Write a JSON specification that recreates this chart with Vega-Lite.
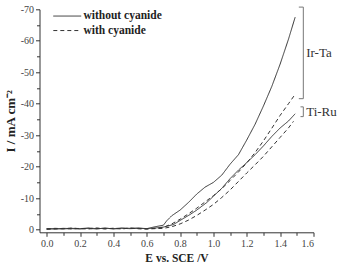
{
  "$schema": "https://vega.github.io/schema/vega-lite/v6.json",
  "width": 274,
  "height": 223,
  "autosize": {"type": "none"},
  "padding": {"left": 39.5, "top": 9.3, "right": 27.5, "bottom": 31.7},
  "background": "white",
  "config": {
    "view": {"stroke": null},
    "font": "Liberation Serif",
    "axis": {
      "grid": false,
      "domainColor": "#333",
      "tickColor": "#333",
      "labelFont": "Liberation Serif",
      "labelFontSize": 10,
      "labelColor": "#444",
      "labelOverlap": false,
      "titleFont": "Liberation Serif",
      "titleFontWeight": "bold",
      "titleFontSize": 12,
      "titleColor": "#222"
    },
    "legend": {
      "labelFont": "Liberation Serif"
    }
  },
  "resolve": {"axis": {"x": "independent", "y": "independent"}},
  "datasets": {
    "curves": [
      {"E": 0.0, "I": -0.2, "electrode": "Ir-Ta", "cyanide": "without cyanide"},
      {"E": 0.05, "I": -0.3, "electrode": "Ir-Ta", "cyanide": "without cyanide"},
      {"E": 0.1, "I": -0.2, "electrode": "Ir-Ta", "cyanide": "without cyanide"},
      {"E": 0.15, "I": -0.4, "electrode": "Ir-Ta", "cyanide": "without cyanide"},
      {"E": 0.2, "I": -0.3, "electrode": "Ir-Ta", "cyanide": "without cyanide"},
      {"E": 0.25, "I": -0.5, "electrode": "Ir-Ta", "cyanide": "without cyanide"},
      {"E": 0.3, "I": -0.3, "electrode": "Ir-Ta", "cyanide": "without cyanide"},
      {"E": 0.35, "I": -0.4, "electrode": "Ir-Ta", "cyanide": "without cyanide"},
      {"E": 0.4, "I": -0.3, "electrode": "Ir-Ta", "cyanide": "without cyanide"},
      {"E": 0.45, "I": -0.5, "electrode": "Ir-Ta", "cyanide": "without cyanide"},
      {"E": 0.5, "I": -0.4, "electrode": "Ir-Ta", "cyanide": "without cyanide"},
      {"E": 0.55, "I": -0.5, "electrode": "Ir-Ta", "cyanide": "without cyanide"},
      {"E": 0.6, "I": -0.3, "electrode": "Ir-Ta", "cyanide": "without cyanide"},
      {"E": 0.65, "I": -0.9, "electrode": "Ir-Ta", "cyanide": "without cyanide"},
      {"E": 0.7, "I": -1.4, "electrode": "Ir-Ta", "cyanide": "without cyanide"},
      {"E": 0.72, "I": -2.8, "electrode": "Ir-Ta", "cyanide": "without cyanide"},
      {"E": 0.75, "I": -4.4, "electrode": "Ir-Ta", "cyanide": "without cyanide"},
      {"E": 0.8, "I": -6.2, "electrode": "Ir-Ta", "cyanide": "without cyanide"},
      {"E": 0.85, "I": -8.6, "electrode": "Ir-Ta", "cyanide": "without cyanide"},
      {"E": 0.9, "I": -11.3, "electrode": "Ir-Ta", "cyanide": "without cyanide"},
      {"E": 0.95, "I": -13.5, "electrode": "Ir-Ta", "cyanide": "without cyanide"},
      {"E": 1.0, "I": -15.0, "electrode": "Ir-Ta", "cyanide": "without cyanide"},
      {"E": 1.05, "I": -17.3, "electrode": "Ir-Ta", "cyanide": "without cyanide"},
      {"E": 1.1, "I": -20.8, "electrode": "Ir-Ta", "cyanide": "without cyanide"},
      {"E": 1.15, "I": -23.8, "electrode": "Ir-Ta", "cyanide": "without cyanide"},
      {"E": 1.2, "I": -28.5, "electrode": "Ir-Ta", "cyanide": "without cyanide"},
      {"E": 1.25, "I": -33.5, "electrode": "Ir-Ta", "cyanide": "without cyanide"},
      {"E": 1.3, "I": -39.3, "electrode": "Ir-Ta", "cyanide": "without cyanide"},
      {"E": 1.35, "I": -45.5, "electrode": "Ir-Ta", "cyanide": "without cyanide"},
      {"E": 1.4, "I": -52.6, "electrode": "Ir-Ta", "cyanide": "without cyanide"},
      {"E": 1.45, "I": -60.5, "electrode": "Ir-Ta", "cyanide": "without cyanide"},
      {"E": 1.49, "I": -67.5, "electrode": "Ir-Ta", "cyanide": "without cyanide"},

      {"E": 0.0, "I": -0.1, "electrode": "Ir-Ta", "cyanide": "with cyanide"},
      {"E": 0.05, "I": -0.2, "electrode": "Ir-Ta", "cyanide": "with cyanide"},
      {"E": 0.1, "I": -0.3, "electrode": "Ir-Ta", "cyanide": "with cyanide"},
      {"E": 0.15, "I": -0.2, "electrode": "Ir-Ta", "cyanide": "with cyanide"},
      {"E": 0.2, "I": -0.4, "electrode": "Ir-Ta", "cyanide": "with cyanide"},
      {"E": 0.25, "I": -0.2, "electrode": "Ir-Ta", "cyanide": "with cyanide"},
      {"E": 0.3, "I": -0.4, "electrode": "Ir-Ta", "cyanide": "with cyanide"},
      {"E": 0.35, "I": -0.2, "electrode": "Ir-Ta", "cyanide": "with cyanide"},
      {"E": 0.4, "I": -0.4, "electrode": "Ir-Ta", "cyanide": "with cyanide"},
      {"E": 0.45, "I": -0.3, "electrode": "Ir-Ta", "cyanide": "with cyanide"},
      {"E": 0.5, "I": -0.4, "electrode": "Ir-Ta", "cyanide": "with cyanide"},
      {"E": 0.55, "I": -0.3, "electrode": "Ir-Ta", "cyanide": "with cyanide"},
      {"E": 0.6, "I": -0.2, "electrode": "Ir-Ta", "cyanide": "with cyanide"},
      {"E": 0.65, "I": -0.4, "electrode": "Ir-Ta", "cyanide": "with cyanide"},
      {"E": 0.7, "I": -0.7, "electrode": "Ir-Ta", "cyanide": "with cyanide"},
      {"E": 0.75, "I": -1.8, "electrode": "Ir-Ta", "cyanide": "with cyanide"},
      {"E": 0.8, "I": -3.3, "electrode": "Ir-Ta", "cyanide": "with cyanide"},
      {"E": 0.85, "I": -5.0, "electrode": "Ir-Ta", "cyanide": "with cyanide"},
      {"E": 0.9, "I": -6.8, "electrode": "Ir-Ta", "cyanide": "with cyanide"},
      {"E": 0.95, "I": -8.8, "electrode": "Ir-Ta", "cyanide": "with cyanide"},
      {"E": 1.0, "I": -10.8, "electrode": "Ir-Ta", "cyanide": "with cyanide"},
      {"E": 1.05, "I": -13.0, "electrode": "Ir-Ta", "cyanide": "with cyanide"},
      {"E": 1.1, "I": -15.6, "electrode": "Ir-Ta", "cyanide": "with cyanide"},
      {"E": 1.15, "I": -18.3, "electrode": "Ir-Ta", "cyanide": "with cyanide"},
      {"E": 1.2, "I": -21.2, "electrode": "Ir-Ta", "cyanide": "with cyanide"},
      {"E": 1.25, "I": -24.5, "electrode": "Ir-Ta", "cyanide": "with cyanide"},
      {"E": 1.3, "I": -28.2, "electrode": "Ir-Ta", "cyanide": "with cyanide"},
      {"E": 1.35, "I": -32.2, "electrode": "Ir-Ta", "cyanide": "with cyanide"},
      {"E": 1.4, "I": -36.3, "electrode": "Ir-Ta", "cyanide": "with cyanide"},
      {"E": 1.45, "I": -40.0, "electrode": "Ir-Ta", "cyanide": "with cyanide"},
      {"E": 1.49, "I": -43.0, "electrode": "Ir-Ta", "cyanide": "with cyanide"},

      {"E": 0.0, "I": -0.3, "electrode": "Ti-Ru", "cyanide": "without cyanide"},
      {"E": 0.05, "I": -0.2, "electrode": "Ti-Ru", "cyanide": "without cyanide"},
      {"E": 0.1, "I": -0.4, "electrode": "Ti-Ru", "cyanide": "without cyanide"},
      {"E": 0.15, "I": -0.3, "electrode": "Ti-Ru", "cyanide": "without cyanide"},
      {"E": 0.2, "I": -0.2, "electrode": "Ti-Ru", "cyanide": "without cyanide"},
      {"E": 0.25, "I": -0.4, "electrode": "Ti-Ru", "cyanide": "without cyanide"},
      {"E": 0.3, "I": -0.2, "electrode": "Ti-Ru", "cyanide": "without cyanide"},
      {"E": 0.35, "I": -0.5, "electrode": "Ti-Ru", "cyanide": "without cyanide"},
      {"E": 0.4, "I": -0.2, "electrode": "Ti-Ru", "cyanide": "without cyanide"},
      {"E": 0.45, "I": -0.4, "electrode": "Ti-Ru", "cyanide": "without cyanide"},
      {"E": 0.5, "I": -0.3, "electrode": "Ti-Ru", "cyanide": "without cyanide"},
      {"E": 0.55, "I": -0.4, "electrode": "Ti-Ru", "cyanide": "without cyanide"},
      {"E": 0.6, "I": -0.3, "electrode": "Ti-Ru", "cyanide": "without cyanide"},
      {"E": 0.65, "I": -0.5, "electrode": "Ti-Ru", "cyanide": "without cyanide"},
      {"E": 0.7, "I": -0.8, "electrode": "Ti-Ru", "cyanide": "without cyanide"},
      {"E": 0.76, "I": -1.6, "electrode": "Ti-Ru", "cyanide": "without cyanide"},
      {"E": 0.8, "I": -2.9, "electrode": "Ti-Ru", "cyanide": "without cyanide"},
      {"E": 0.86, "I": -4.8, "electrode": "Ti-Ru", "cyanide": "without cyanide"},
      {"E": 0.9, "I": -6.2, "electrode": "Ti-Ru", "cyanide": "without cyanide"},
      {"E": 0.96, "I": -8.6, "electrode": "Ti-Ru", "cyanide": "without cyanide"},
      {"E": 1.0, "I": -10.6, "electrode": "Ti-Ru", "cyanide": "without cyanide"},
      {"E": 1.05, "I": -13.1, "electrode": "Ti-Ru", "cyanide": "without cyanide"},
      {"E": 1.1, "I": -16.2, "electrode": "Ti-Ru", "cyanide": "without cyanide"},
      {"E": 1.15, "I": -18.9, "electrode": "Ti-Ru", "cyanide": "without cyanide"},
      {"E": 1.2, "I": -21.3, "electrode": "Ti-Ru", "cyanide": "without cyanide"},
      {"E": 1.25, "I": -23.8, "electrode": "Ti-Ru", "cyanide": "without cyanide"},
      {"E": 1.3, "I": -26.6, "electrode": "Ti-Ru", "cyanide": "without cyanide"},
      {"E": 1.35, "I": -29.6, "electrode": "Ti-Ru", "cyanide": "without cyanide"},
      {"E": 1.4, "I": -32.3, "electrode": "Ti-Ru", "cyanide": "without cyanide"},
      {"E": 1.45, "I": -34.5, "electrode": "Ti-Ru", "cyanide": "without cyanide"},
      {"E": 1.49, "I": -36.8, "electrode": "Ti-Ru", "cyanide": "without cyanide"},

      {"E": 0.0, "I": -0.2, "electrode": "Ti-Ru", "cyanide": "with cyanide"},
      {"E": 0.05, "I": -0.4, "electrode": "Ti-Ru", "cyanide": "with cyanide"},
      {"E": 0.1, "I": -0.3, "electrode": "Ti-Ru", "cyanide": "with cyanide"},
      {"E": 0.15, "I": -0.5, "electrode": "Ti-Ru", "cyanide": "with cyanide"},
      {"E": 0.2, "I": -0.3, "electrode": "Ti-Ru", "cyanide": "with cyanide"},
      {"E": 0.25, "I": -0.3, "electrode": "Ti-Ru", "cyanide": "with cyanide"},
      {"E": 0.3, "I": -0.5, "electrode": "Ti-Ru", "cyanide": "with cyanide"},
      {"E": 0.35, "I": -0.3, "electrode": "Ti-Ru", "cyanide": "with cyanide"},
      {"E": 0.4, "I": -0.4, "electrode": "Ti-Ru", "cyanide": "with cyanide"},
      {"E": 0.45, "I": -0.2, "electrode": "Ti-Ru", "cyanide": "with cyanide"},
      {"E": 0.5, "I": -0.5, "electrode": "Ti-Ru", "cyanide": "with cyanide"},
      {"E": 0.55, "I": -0.3, "electrode": "Ti-Ru", "cyanide": "with cyanide"},
      {"E": 0.6, "I": -0.2, "electrode": "Ti-Ru", "cyanide": "with cyanide"},
      {"E": 0.65, "I": -0.3, "electrode": "Ti-Ru", "cyanide": "with cyanide"},
      {"E": 0.7, "I": -0.4, "electrode": "Ti-Ru", "cyanide": "with cyanide"},
      {"E": 0.75, "I": -0.9, "electrode": "Ti-Ru", "cyanide": "with cyanide"},
      {"E": 0.8, "I": -1.8, "electrode": "Ti-Ru", "cyanide": "with cyanide"},
      {"E": 0.85, "I": -3.0, "electrode": "Ti-Ru", "cyanide": "with cyanide"},
      {"E": 0.9, "I": -4.5, "electrode": "Ti-Ru", "cyanide": "with cyanide"},
      {"E": 0.95, "I": -6.2, "electrode": "Ti-Ru", "cyanide": "with cyanide"},
      {"E": 1.0, "I": -8.0, "electrode": "Ti-Ru", "cyanide": "with cyanide"},
      {"E": 1.05, "I": -10.2, "electrode": "Ti-Ru", "cyanide": "with cyanide"},
      {"E": 1.1, "I": -12.6, "electrode": "Ti-Ru", "cyanide": "with cyanide"},
      {"E": 1.15, "I": -15.3, "electrode": "Ti-Ru", "cyanide": "with cyanide"},
      {"E": 1.2, "I": -18.0, "electrode": "Ti-Ru", "cyanide": "with cyanide"},
      {"E": 1.25, "I": -20.6, "electrode": "Ti-Ru", "cyanide": "with cyanide"},
      {"E": 1.3, "I": -23.3, "electrode": "Ti-Ru", "cyanide": "with cyanide"},
      {"E": 1.35, "I": -26.3, "electrode": "Ti-Ru", "cyanide": "with cyanide"},
      {"E": 1.4, "I": -29.3, "electrode": "Ti-Ru", "cyanide": "with cyanide"},
      {"E": 1.45, "I": -32.3, "electrode": "Ti-Ru", "cyanide": "with cyanide"},
      {"E": 1.48, "I": -34.4, "electrode": "Ti-Ru", "cyanide": "with cyanide"}
    ],
    "brackets": [
      {"x1": 1.539, "x2": 1.539, "y1": -70.7, "y2": -41.6},
      {"x1": 1.512, "x2": 1.539, "y1": -70.7, "y2": -70.7},
      {"x1": 1.512, "x2": 1.539, "y1": -41.6, "y2": -41.6},
      {"x1": 1.539, "x2": 1.539, "y1": -39.0, "y2": -35.9},
      {"x1": 1.522, "x2": 1.539, "y1": -39.0, "y2": -39.0},
      {"x1": 1.522, "x2": 1.539, "y1": -35.9, "y2": -35.9}
    ],
    "labels": [
      {"x": 1.556, "y": -56.2, "text": "Ir-Ta"},
      {"x": 1.556, "y": -37.3, "text": "Ti-Ru"}
    ]
  },
  "layer": [
    {
      "data": {"name": "curves"},
      "mark": {"type": "line", "strokeWidth": 1, "color": "#333", "clip": false},
      "encoding": {
        "x": {
          "field": "E",
          "type": "quantitative",
          "scale": {"domain": [-0.043, 1.6], "nice": false, "zero": false},
          "axis": {
            "orient": "bottom",
            "title": "E vs. SCE /V",
            "titlePadding": 4,
            "titleFontSize": 11.5,
            "labelFont": "Liberation Serif",
            "labelOverlap": false,
            "values": [0, 0.2, 0.4, 0.6, 0.8, 1.0, 1.2, 1.4, 1.6],
            "format": ".1f",
            "tickSize": 4,
            "labelPadding": 2
          }
        },
        "y": {
          "field": "I",
          "type": "quantitative",
          "scale": {"domain": [0.86, -70], "nice": false, "zero": false},
          "axis": {
            "orient": "left",
            "title": "I / mA cm⁻²",
            "titlePadding": 3,
            "titleFontSize": 13,
            "labelFont": "Liberation Serif",
            "labelOverlap": false,
            "values": [-70, -60, -50, -40, -30, -20, -10, 0],
            "labelExpr": "'' + datum.value",
            "tickSize": 4,
            "labelPadding": 2
          }
        },
        "detail": {"field": "electrode"},
        "strokeDash": {
          "field": "cyanide",
          "type": "nominal",
          "scale": {"domain": ["without cyanide", "with cyanide"], "range": [[1, 0], [4, 3]]},
          "legend": {
            "title": null,
            "orient": "none",
            "legendX": 22,
            "legendY": 1,
            "padding": 0,
            "symbolType": "M-3.1,0H3.1",
            "symbolSize": 81,
            "symbolFillColor": "transparent",
            "symbolStrokeColor": "#333",
            "symbolStrokeWidth": 1,
            "labelFont": "Liberation Serif",
            "labelFontSize": 11.5,
            "labelFontWeight": "bold",
            "labelColor": "#222",
            "labelOffset": 10.5,
            "rowPadding": 1.5
          }
        }
      }
    },
    {
      "data": {"name": "brackets"},
      "mark": {"type": "rule", "color": "#777", "strokeWidth": 1, "clip": false},
      "encoding": {
        "x": {
          "field": "x1",
          "type": "quantitative",
          "scale": {"domain": [-0.043, 1.6], "nice": false, "zero": false},
          "axis": {
            "orient": "bottom",
            "title": null,
            "labels": false,
            "domain": false,
            "values": [0.1, 0.3, 0.5, 0.7, 0.9, 1.1, 1.3, 1.5],
            "tickSize": 3
          }
        },
        "x2": {"field": "x2"},
        "y": {
          "field": "y1",
          "type": "quantitative",
          "scale": {"domain": [0.86, -70], "nice": false, "zero": false},
          "axis": {
            "orient": "left",
            "title": null,
            "labels": false,
            "domain": false,
            "values": [-65, -55, -45, -35, -25, -15, -5],
            "tickSize": 3
          }
        },
        "y2": {"field": "y2"}
      }
    },
    {
      "data": {"name": "labels"},
      "mark": {"type": "text", "align": "left", "baseline": "middle", "font": "Liberation Serif", "fontSize": 13, "color": "#333", "clip": false},
      "encoding": {
        "x": {"field": "x", "type": "quantitative", "scale": {"domain": [-0.043, 1.6], "nice": false, "zero": false}, "axis": null},
        "y": {"field": "y", "type": "quantitative", "scale": {"domain": [0.86, -70], "nice": false, "zero": false}, "axis": null},
        "text": {"field": "text"}
      }
    }
  ]
}
